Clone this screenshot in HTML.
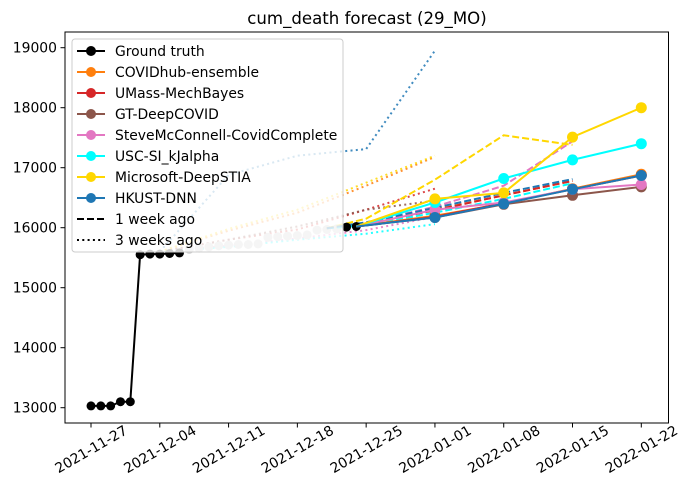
<!DOCTYPE html>
<html><head><meta charset="utf-8"><style>
body{margin:0;background:#fff}
svg{display:block;font-family:"DejaVu Sans","Liberation Sans",sans-serif}
</style></head><body>
<svg id="chart" width="688" height="496" xmlns="http://www.w3.org/2000/svg">
<text x="367" y="24" font-size="16.6" text-anchor="middle" fill="#000">cum_death forecast (29_MO)</text>
<g id="plot"></g>
<rect x="65" y="32" width="603.5" height="391" fill="none" stroke="#000" stroke-width="1"/>
<g id="axes"></g>
<g id="legend"></g>
</svg>
<script>
const xTickLabels=["2021-11-27","2021-12-04","2021-12-11","2021-12-18","2021-12-25","2022-01-01","2022-01-08","2022-01-15","2022-01-22"];
const xTickDays=[0,7,14,21,28,35,42,49,56];
const yTicks=[13000,14000,15000,16000,17000,18000,19000];
const truthDays=[0,1,2,3,4,5,6,7,8,9,26,27];
const truthVals=[13030,13030,13030,13100,13100,15550,15560,15560,15570,15580,16010,16020];
const fadedDays=[10,11,12,13,14,15,16,17,18,19,20,21,22,23,24,25];
const fadedVals=[15640,15660,15680,15700,15710,15720,15720,15730,15840,15850,15860,15870,15880,15960,15970,15980];
const models=["COVIDhub-ensemble","UMass-MechBayes","GT-DeepCOVID","SteveMcConnell-CovidComplete","USC-SI_kJalpha","Microsoft-DeepSTIA","HKUST-DNN"];
const colors=["#ff7f0e","#d62728","#8c564b","#e377c2","#00ffff","#ffd700","#1f77b4"];
const fcDays=[27,35,42,49,56];
const fcEnsemble=[16020,16200,16400,16650,16890];
const fcUMass=[16020,16180,16410,16640,16870];
const fcGT=[16020,16170,16390,16540,16680];
const fcSteve=[16020,16300,16420,16640,16720];
const fcUSC=[16020,16420,16820,17130,17400];
const fcMS=[16020,16480,16580,17510,18000];
const fcHK=[16020,16170,16400,16640,16870];
const wkDays=[24,28,35,42,49];
const wkEnsemble=[15990,16070,16300,16540,16780];
const wkUMass=[15990,16060,16290,16540,16780];
const wkSteve=[15990,16080,16350,16700,17440];
const wkUSC=[15990,16040,16250,16480,16740];
const wkMS=[15990,16150,16800,17540,17380];
const wkHK=[15990,16090,16330,16580,16810];
const w3Days=[7,14,21,28,35];
const w3Ensemble=[15600,15950,16250,16700,17180];
const w3UMass=[15600,15800,15970,16300,16650];
const w3GT=[15600,15800,16020,16300,16450];
const w3Steve=[15600,15700,15820,15960,16180];
const w3USC=[15600,15680,15800,15900,16060];
const w3MS=[15600,15980,16300,16750,17200];
const w3HK=[15600,16880,17200,17310,18950];

const X=d=>91+d*(641.3-91)/56;
const Y=v=>407.7-(v-13000)*0.06;
const NS="http://www.w3.org/2000/svg";
const plot=document.getElementById('plot'),axes=document.getElementById('axes'),leg=document.getElementById('legend');
function mk(tag,attrs,parent){const e=document.createElementNS(NS,tag);for(const k in attrs)e.setAttribute(k,attrs[k]);parent.appendChild(e);return e;}
function pts(ds,vs){return ds.map((d,i)=>X(d).toFixed(1)+","+Y(vs[i]).toFixed(1)).join(" ");}

const w3=[w3Ensemble,w3UMass,w3GT,w3Steve,w3USC,w3MS,w3HK];
w3.forEach((vs,i)=>{
  const l=mk('polyline',{points:pts(w3Days,vs),fill:'none',stroke:colors[i],'stroke-width':2,'stroke-dasharray':'2,3.3',opacity:0.85},plot);
  
  
});
fadedDays.forEach((d,i)=>{
  const c=mk('circle',{cx:X(d),cy:Y(fadedVals[i]),r:4.5,fill:'#ccc'},plot);
  
  
});
const wk=[wkEnsemble,wkUMass,null,wkSteve,wkUSC,wkMS,wkHK];
wk.forEach((vs,i)=>{
  if(!vs)return;
  const l=mk('polyline',{points:pts(wkDays,vs),fill:'none',stroke:colors[i],'stroke-width':2,'stroke-dasharray':'7,3'},plot);
  
  
});
const tl=mk('polyline',{points:pts(truthDays.slice(0,10),truthVals.slice(0,10)),fill:'none',stroke:'#000','stroke-width':2},plot);


truthDays.forEach((d,i)=>{
  const c=mk('circle',{cx:X(d),cy:Y(truthVals[i]),r:4.5,fill:'#000'},plot);
  
  
});
const fc=[fcEnsemble,fcUMass,fcGT,fcSteve,fcUSC,fcMS,fcHK];
fc.forEach((vs,i)=>{
  const l=mk('polyline',{points:pts(fcDays,vs),fill:'none',stroke:colors[i],'stroke-width':2},plot);
  
  
  fcDays.forEach((d,j)=>{if(j===0)return;
    const c=mk('circle',{cx:X(d),cy:Y(vs[j]),r:5.5,fill:colors[i]},plot);
    
    
  });
});
yTicks.forEach(v=>{
  const t=mk('line',{x1:60.5,x2:65,y1:Y(v),y2:Y(v),stroke:'#000'},axes);
  
  
  const tx=mk('text',{x:57,y:Y(v)+5,'font-size':13.9,'text-anchor':'end'},axes);
  tx.textContent=v;
  
  
});
xTickDays.forEach((d,i)=>{
  const t=mk('line',{x1:X(d),x2:X(d),y1:423,y2:427.5,stroke:'#000'},axes);
  
  
  const cx=X(d), cy=449;
  const tx=mk('text',{x:cx,y:cy+5,'font-size':13.9,'text-anchor':'middle',transform:'rotate(-30 '+cx+' '+cy+')'},axes);
  tx.textContent=xTickLabels[i];
  
  
});
const lb=mk('rect',{x:72,y:39,width:271,height:213,rx:3,fill:'rgba(255,255,255,0.8)',stroke:'#ccc'},leg);


const entries=[["Ground truth","#000","solid"]].concat(models.map((m,i)=>[m,colors[i],"solid"])).concat([["1 week ago","#000","dash"],["3 weeks ago","#000","dot"]]);
entries.forEach((e,i)=>{
  const y=51+i*21;
  const attrs={x1:77,x2:105,y1:y,y2:y,stroke:e[1],'stroke-width':2};
  if(e[2]==='dash')attrs['stroke-dasharray']='7,3';
  if(e[2]==='dot')attrs['stroke-dasharray']='2,3.3';
  const ln=mk('line',attrs,leg);
  
  
  if(e[2]==='solid'){const c=mk('circle',{cx:91,cy:y,r:5,fill:e[1]},leg);
    
    }
  const t=mk('text',{x:115,y:y+5,'font-size':13.9},leg);
  t.textContent=e[0];
  
  
});
</script>
</body></html>
